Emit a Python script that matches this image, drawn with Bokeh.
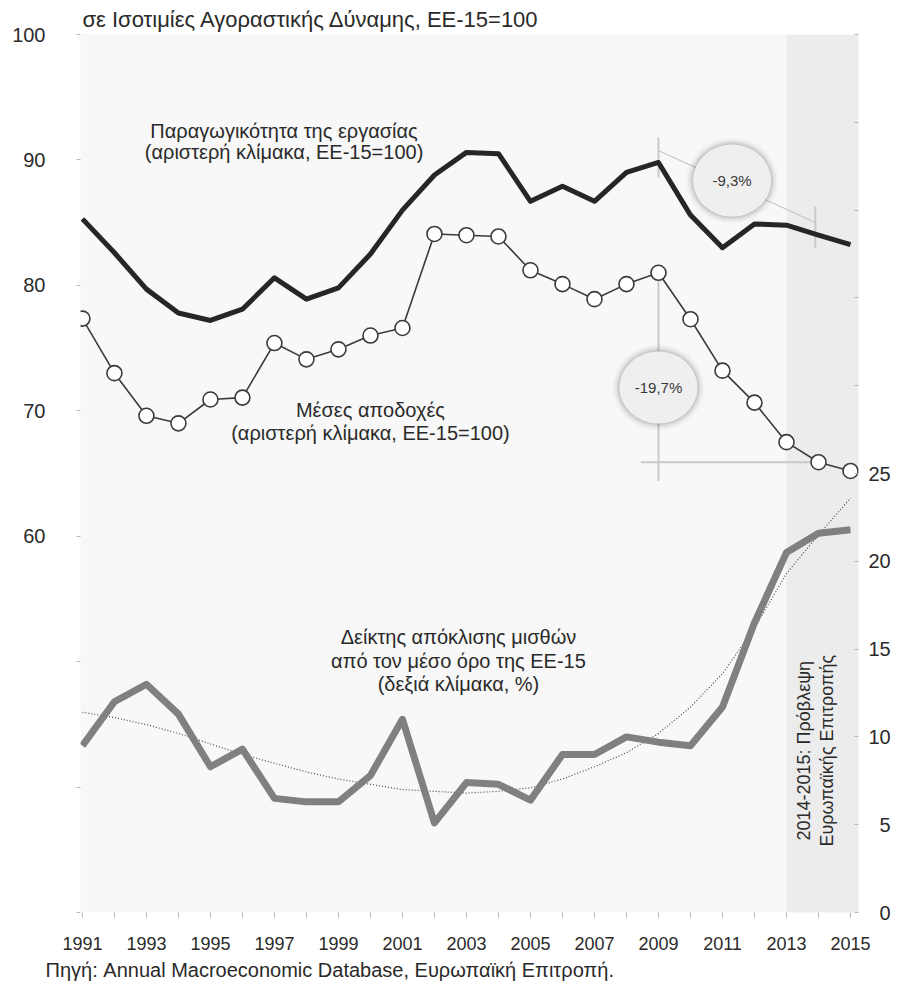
import numpy as np
from bokeh.plotting import figure
from bokeh.models import Range1d, LinearAxis, FixedTicker, BoxAnnotation, Label, Title
from bokeh.embed import file_html
from bokeh.resources import INLINE

years = list(range(1991, 2016))
productivity = [85.3, 82.6, 79.7, 77.8, 77.2, 78.1, 80.6, 78.9, 79.8, 82.5, 86.0, 88.8, 90.6, 90.5,
                86.7, 87.9, 86.7, 89.0, 89.8, 85.6, 83.0, 84.9, 84.8, 84.0, 83.25]
wages = [77.35, 73.0, 69.6, 69.0, 70.9, 71.05, 75.4, 74.1, 74.9, 76.0, 76.6, 84.1, 84.0, 83.9,
         81.2, 80.1, 78.9, 80.1, 81.0, 77.3, 73.2, 70.65, 67.5, 65.9, 65.2]
gap = [9.5, 12.0, 13.0, 11.3, 8.3, 9.3, 6.5, 6.3, 6.3, 7.8, 11.0, 5.1, 7.4, 7.3,
       6.4, 9.0, 9.0, 10.0, 9.7, 9.5, 11.7, 16.5, 20.5, 21.6, 21.8]
gap_trend = [11.4, 11.1, 10.7, 10.2, 9.6, 9.0, 8.5, 8.0, 7.6, 7.3, 7.0, 6.9, 6.8, 6.9,
             7.1, 7.6, 8.3, 9.1, 10.2, 11.7, 13.6, 16.2, 19.3, 21.5, 23.6]

left_ticks = [30, 40, 50, 60, 70, 80, 90, 100]
left_labels = {30: "", 40: "", 50: ""}
right_ticks = [0, 5, 10, 15, 20, 25, 30, 35, 40, 45, 50]
right_labels = {0: "\u20070", 5: "\u20075", 30: "", 35: "", 40: "", 45: "", 50: ""}
x_labels = {y: (str(y) if y % 2 == 1 else "") for y in years}

title_text = "σε Ισοτιμίες Αγοραστικής Δύναμης, ΕΕ-15=100"
source_text = "Πηγή: Annual Macroeconomic Database, Ευρωπαϊκή Επιτροπή."
prod_label = ["Παραγωγικότητα της εργασίας", "(αριστερή κλίμακα, ΕΕ-15=100)"]
wage_label = ["Μέσες αποδοχές", "(αριστερή κλίμακα, ΕΕ-15=100)"]
gap_label = ["Δείκτης απόκλισης μισθών", "από τον μέσο όρο της ΕΕ-15", "(δεξιά κλίμακα, %)"]
band_label = "2014-2015: Πρόβλεψη\nΕυρωπαϊκής Επιτροπής"
bubble_texts = ["-9,3%", "-19,7%"]
forecast_start = 2013

FONT = "Liberation Sans"
TXT = "#2a2a2a"

p = figure(frame_width=778, frame_height=878, output_backend="svg", toolbar_location=None,
           x_range=Range1d(1990.94, 2015.25), y_range=Range1d(30, 100),
           min_border_left=80, min_border_top=34, min_border_right=35, min_border_bottom=5,
           background_fill_color="#f8f8f8", border_fill_color="white", outline_line_color=None)
p.xgrid.visible = False
p.ygrid.visible = False
p.extra_y_ranges = {"right": Range1d(0, 50)}

# title
p.title.text = title_text
p.title.align = "left"
p.title.offset = 2
p.title.text_font = FONT
p.title.text_font_size = "22px"
p.title.text_font_style = "normal"
p.title.text_color = TXT
p.title.standoff = 5

# axes
xa = p.xaxis[0]
xa.ticker = FixedTicker(ticks=years)
xa.major_label_overrides = x_labels
ya = p.yaxis[0]
ya.ticker = FixedTicker(ticks=left_ticks)
ya.major_label_overrides = left_labels
ra = LinearAxis(y_range_name="right", ticker=FixedTicker(ticks=right_ticks),
                major_label_overrides=right_labels)
p.add_layout(ra, "right")
for ax in (xa, ya, ra):
    ax.axis_line_color = None
    ax.major_tick_line_color = "#b8b8b8"
    ax.major_tick_in = 0
    ax.minor_tick_line_color = None
    ax.major_label_text_font = FONT
    ax.major_label_text_color = TXT
xa.major_tick_out = 5
xa.major_label_standoff = 19
xa.major_label_text_font_size = "18px"
ya.major_tick_out = 4
ya.major_label_standoff = 31
ya.major_label_text_font_size = "20px"
ra.major_tick_out = 0
ra.major_tick_in = 4
ra.major_label_standoff = 10
ra.major_label_text_font_size = "20px"

src = Title(text=source_text, align="left", offset=-35, text_font=FONT, text_font_size="20px",
            text_font_style="normal", text_color=TXT, standoff=9)
p.add_layout(src, "below")

# forecast band
p.add_layout(BoxAnnotation(left=forecast_start, fill_color="#ececec", fill_alpha=1.0,
                           line_color=None, level="underlay"))

# trend + gap
p.line(years, gap_trend, y_range_name="right", line_color="#4a4a4a", line_width=1.2,
       line_dash="1 2")
p.line(years, gap, y_range_name="right", line_color="#808080", line_width=7, line_join="round")

# annotation guide lines (derived from data)
i09 = years.index(2009)
i14 = years.index(2014)
guide = "#c9c9c9"
p.segment(x0=[2009], y0=[productivity[i09] + 2.0], x1=[2009], y1=[productivity[i09] - 1.2],
          line_color=guide, line_width=2)
p.segment(x0=[2014 - 0.1], y0=[productivity[i14] + 2.3], x1=[2014 - 0.1], y1=[productivity[i14] - 1.0],
          line_color=guide, line_width=2)
p.segment(x0=[2009], y0=[productivity[i09] + 0.95], x1=[2014 - 0.1], y1=[productivity[i14] + 1.0],
          line_color="#bdbdbd", line_width=1)
p.segment(x0=[2009], y0=[wages[i09]], x1=[2009], y1=[wages[-1] - 0.8],
          line_color=guide, line_width=2)
p.segment(x0=[2008.45], y0=[wages[i14]], x1=[2013.85], y1=[wages[i14]],
          line_color=guide, line_width=2)

# main series
p.line(years, productivity, line_color="#262626", line_width=5, line_join="round")
p.line(years, wages, line_color="#3a3a3a", line_width=1.6)
p.scatter(years, wages, size=15, fill_color="white", line_color="#3a3a3a", line_width=1.6)

# bubbles
bx = [2011.3, 2009.0]
by = [88.35, 71.85]
for grow, alpha in [(14, 0.04), (10, 0.07), (6, 0.10), (3, 0.13)]:
    p.ellipse(bx, by, width=78 + grow, height=72 + grow, width_units="screen",
              height_units="screen", fill_color="#606060", fill_alpha=alpha, line_color=None)
p.ellipse(bx, by, width=78, height=72, width_units="screen", height_units="screen",
          fill_color="#efefef", line_color=None)
for x, y, t in zip(bx, by, bubble_texts):
    p.add_layout(Label(x=x, y=y, text=t, text_align="center", text_baseline="middle",
                       text_font=FONT, text_font_size="15px", text_color="#3a3a3a"))

def add_text(lines, x, y, step, y_range_name="default"):
    for k, line in enumerate(lines):
        p.add_layout(Label(x=x, y=y - k * step, text=line, text_align="center",
                           text_baseline="middle", text_font=FONT, text_font_size="20px",
                           text_color=TXT, y_range_name=y_range_name))

add_text(prod_label, 1997.3, 92.3, 1.7)
add_text(wage_label, 2000.0, 70.1, 1.9)
add_text(gap_label, 2002.75, 15.7, 1.35, "right")

p.add_layout(Label(x=2013.9, y=42.9, text=band_label, angle=np.pi / 2, text_align="center",
                   text_baseline="middle", text_font=FONT, text_font_size="18px",
                   text_color=TXT, text_line_height=1.15))

open("out.html", "w").write(file_html(p, INLINE))
